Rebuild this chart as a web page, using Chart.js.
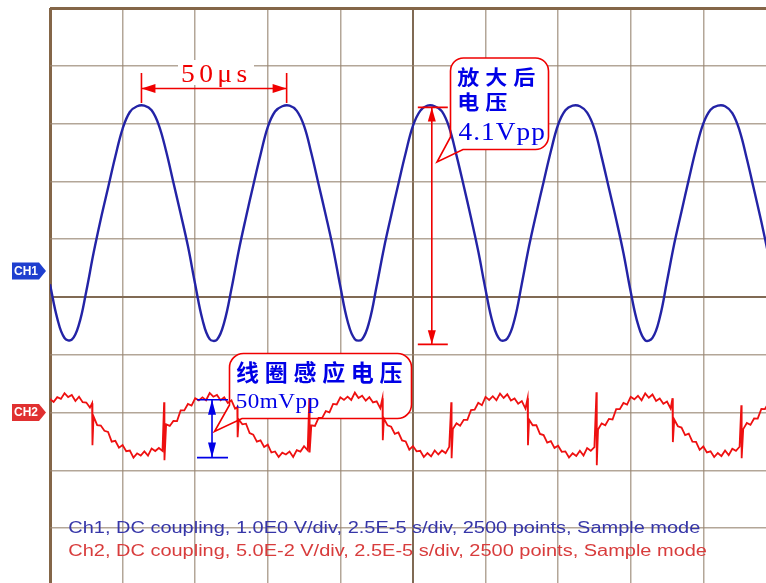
<!DOCTYPE html>
<html>
<head>
<meta charset="utf-8">
<script src="https://cdn.jsdelivr.net/npm/chart.js@4.4.1/dist/chart.umd.min.js"></script>
<style>
  html, body { margin: 0; padding: 0; background: #fff; overflow: hidden; }
  #wrap { width: 766px; height: 583px; }
</style>
</head>
<body>
<div id="wrap"><canvas id="scope" width="766" height="583"></canvas></div>
<script>
// ---- scope settings ----
const timePerDiv = 25;            // µs per division (2.5E-5 s/div)
const ch1VoltsPerDiv = 1.0;       // CH1 V/div
const ch2MilliVoltsPerDiv = 50;   // CH2 mV/div (5.0E-2 V/div)
const ch1Position = 0.45;         // CH1 ground, divisions above centre
const ch2Position = -2;           // CH2 ground, divisions above centre
const viewDivsX = 9.864;          // visible part of the 10-division record
const viewTopDiv = 5;
const viewBottomDiv = -4.95;

// ---- CH1: amplified signal, one sample every 2.5 µs (V) ----
const ch1Step = 2.5;
const ch1Volts = [
  -0.23, -0.82, -1.16, -1.19, -0.92, -0.35, 0.31, 0.90, 1.44, 1.98,
  2.46, 2.75, 2.85, 2.86, 2.78, 2.52, 2.07, 1.53, 0.99, 0.43,
  -0.23, -0.84, -1.18, -1.19, -0.89, -0.31, 0.35, 0.93, 1.48, 2.01,
  2.49, 2.76, 2.85, 2.86, 2.77, 2.51, 2.04, 1.50, 0.96, 0.39,
  -0.27, -0.87, -1.18, -1.18, -0.87, -0.26, 0.39, 0.96, 1.51, 2.04,
  2.51, 2.77, 2.86, 2.85, 2.76, 2.48, 2.00, 1.47, 0.92, 0.34,
  -0.32, -0.90, -1.19, -1.17, -0.84, -0.22, 0.43, 1.00, 1.54, 2.07,
  2.53, 2.78, 2.86, 2.85, 2.74, 2.46, 1.97, 1.43, 0.89, 0.31,
  -0.36, -0.92, -1.20, -1.16, -0.81, -0.18, 0.47, 1.03, 1.58, 2.11,
  2.55, 2.79, 2.86, 2.85, 2.73, 2.43, 1.94, 1.40, 0.85, 0.26
];

// ---- CH2: coil pick-up, one sample every 1.25 µs (mV) ----
const ch2Step = 1.25;
const ch2MilliVolts = [
  11.7, 9.2, 13.3, 11.8, 16.7, 13.4, 15.1, 10.0, 13.7, 8.9,
  8.6, 4.3, -3.4, -10.9, -11.3, -15.8, -16.8, -25.2, -24.5, -30.5,
  -28.2, -33.5, -32.9, -39.0, -35.3, -37.3, -33.7, -37.3, -31.1, -33.3,
  -30.7, -33.2, -10.2, -11.6, -7.3, -7.4, 1.8, 1.8, 7.4, 6.0,
  12.3, 10.5, 13.1, 10.6, 16.9, 13.7, 15.2, 10.6, 13.2, 8.3,
  10.5, 3.4, -6.0, -10.2, -9.7, -17.7, -19.1, -25.2, -24.1, -29.8,
  -27.8, -34.6, -33.7, -38.5, -34.7, -36.3, -33.8, -38.5, -32.5, -33.8,
  -29.2, -32.7, -11.1, -11.6, -4.6, -4.7, 1.2, 0.2, 7.4, 7.0,
  13.1, 10.9, 13.7, 10.9, 17.2, 12.6, 14.5, 10.2, 13.3, 8.7,
  9.7, 3.8, -5.2, -11.1, -12.3, -18.5, -17.3, -24.2, -25.0, -32.1,
  -29.0, -33.6, -33.1, -38.5, -35.1, -38.0, -32.8, -36.3, -32.9, -35.1,
  -29.7, -14.2, -9.3, -11.5, -6.3, -6.3, 2.1, 2.4, 8.4, 6.3,
  13.5, 10.9, 14.1, 10.6, 16.4, 12.6, 15.8, 10.4, 12.2, 7.6,
  9.9, 3.4, -6.2, -11.0, -11.0, -18.5, -19.5, -26.1, -24.7, -30.6,
  -28.7, -34.0, -33.6, -38.9, -35.3, -37.6, -33.1, -37.2, -30.8, -33.1,
  -29.9, -14.8, -9.4, -11.0, -5.5, -6.0, 2.9, 2.9, 8.3, 6.8,
  13.6, 11.4, 14.5, 10.6, 16.6, 12.8, 15.6, 10.0, 12.1, 7.5,
  9.5, 3.5, -6.0, -11.9, -13.0, -19.5, -18.3, -25.1, -25.4, -32.3,
  -29.4, -34.5, -33.6, -38.5, -35.0, -37.7, -32.9, -36.9, -31.3, -33.1,
  -29.6, -14.4, -9.1, -10.7, -5.2, -5.3, 3.2, 3.0, 8.6
];

// switching spikes on CH2: time (µs) and the two extremes (mV)
const spikeTimes = [14.5, 39.3, 64.5, 89.3, 114.5, 138.2, 164.5, 188.2, 214.4, 238.1];
const spikeHigh  = [8.0, 8.9, 4.6, 12.4, 12.4, 8.9, 12.4, 17.6, 12.4, 6.3];
const spikeLow   = [-28.3, -41.3, -21.4, -34.5, -23.9, -39.5, -28.3, -45.6, -25.6, -39.5];

// ---- measurements marked on the screen ----
const periodStart = 31.5;   // µs, first marked crest
const periodValue = 50;     // µs
const ch1PeakLevel = 2.83;  // V
const ch1Vpp = 4.1;         // V
const ch1MarkTime = 131.5;  // µs
const ch2TopLevel = 11;     // mV
const ch2Vpp = 50;          // mV
const ch2MarkTime = 55.8;   // µs

const infoLines = [
  'Ch1, DC coupling, 1.0E0 V/div, 2.5E-5 s/div, 2500 points, Sample mode',
  'Ch2, DC coupling, 5.0E-2 V/div, 2.5E-5 s/div, 2500 points, Sample mode'
];

// ---- build point lists ----
const ch1Points = ch1Volts.map((v, i) => ({ x: i * ch1Step, y: v }));
const ch2Points = [];
let sp = 0;
ch2MilliVolts.forEach((v, i) => {
  const t = i * ch2Step;
  while (sp < spikeTimes.length && spikeTimes[sp] < t) {
    ch2Points.push({ x: spikeTimes[sp], y: spikeHigh[sp] });
    ch2Points.push({ x: spikeTimes[sp] + 0.12, y: spikeLow[sp] });
    sp++;
  }
  ch2Points.push({ x: t, y: v });
});

// ---- graticule styling ----
const LINE = 'rgba(150,132,112,0.72)';
const CENTRE = 'rgb(128,106,84)';
const EDGE = 'rgb(132,102,72)';
function divColor(div, edge) { return div === edge ? EDGE : (div === 0 ? CENTRE : LINE); }
function divWidth(div, edge) { return div === edge ? 3 : (div === 0 ? 2 : 1.5); }

// ---- drawing helpers ----
function say(ctx, str, x, y, font, color, sx, spacing) {
  ctx.save();
  ctx.font = font; ctx.fillStyle = color;
  ctx.textAlign = 'left'; ctx.textBaseline = 'alphabetic';
  if ('letterSpacing' in ctx) ctx.letterSpacing = (spacing || 0) + 'px';
  ctx.translate(x, y); ctx.scale(sx || 1, 1);
  ctx.fillText(str, 0, 0);
  ctx.restore();
}
function sayPitched(ctx, str, x, y, pitch, font, color, sx) {
  ctx.save();
  ctx.font = font; ctx.fillStyle = color;
  ctx.textAlign = 'center'; ctx.textBaseline = 'alphabetic';
  [...str].forEach((ch, i) => {
    ctx.save();
    ctx.translate(x + pitch * (i + 0.5), y); ctx.scale(sx || 1, 1);
    ctx.fillText(ch, 0, 0);
    ctx.restore();
  });
  ctx.restore();
}
function arrowHead(ctx, tx, ty, dx, dy, len, half) {
  const bx = tx - dx * len, by = ty - dy * len;
  ctx.beginPath();
  ctx.moveTo(tx, ty);
  ctx.lineTo(bx - dy * half, by + dx * half);
  ctx.lineTo(bx + dy * half, by - dx * half);
  ctx.closePath();
  ctx.fill();
}
function calloutPath(ctx, b) {
  const { x0, y0, x1, y1, r, tipX, tipY, tailY, tailX } = b;
  ctx.beginPath();
  ctx.moveTo(x0 + r, y0);
  ctx.lineTo(x1 - r, y0);
  ctx.arcTo(x1, y0, x1, y0 + r, r);
  ctx.lineTo(x1, y1 - r);
  ctx.arcTo(x1, y1, x1 - r, y1, r);
  ctx.lineTo(tailX, y1);
  ctx.lineTo(tipX, tipY);
  ctx.lineTo(x0, tailY);
  ctx.lineTo(x0, y0 + r);
  ctx.arcTo(x0, y0, x0 + r, y0, r);
  ctx.closePath();
}
function channelTag(ctx, y, label, color) {
  ctx.save();
  ctx.fillStyle = color;
  ctx.beginPath();
  ctx.moveTo(12, y - 8.5); ctx.lineTo(39, y - 8.5); ctx.lineTo(46, y);
  ctx.lineTo(39, y + 8.5); ctx.lineTo(12, y + 8.5); ctx.closePath();
  ctx.fill();
  ctx.fillStyle = '#fff';
  ctx.font = 'bold 12px "Liberation Sans", Arial, sans-serif';
  ctx.textAlign = 'center'; ctx.textBaseline = 'middle';
  ctx.fillText(label, 26, y + 0.5);
  ctx.restore();
}

const box1 = { x0: 450.5, y0: 58, x1: 548.5, y1: 149.5, r: 13, tipX: 437, tipY: 162, tailY: 137, tailX: 463 };
const box2 = { x0: 229.5, y0: 353.5, x1: 411.5, y1: 418.5, r: 14, tipX: 214.5, tipY: 431.5, tailY: 405, tailX: 242 };

const RED = '#f00000';
const BLUE = '#0000e6';
const CJK = '"Noto Sans CJK SC", sans-serif';
const SERIF = '"Liberation Serif", "DejaVu Serif", serif';

const screenNotes = {
  id: 'screenNotes',
  beforeDatasetsDraw(chart) {
    const ctx = chart.ctx;
    ctx.save();
    ctx.fillStyle = '#fff';
    calloutPath(ctx, box1); ctx.fill();
    calloutPath(ctx, box2); ctx.fill();
    ctx.fillRect(178, 60, 76, 25);
    ctx.restore();
  },
  afterDatasetsDraw(chart) {
    const ctx = chart.ctx;
    const sx = chart.scales.x, s1 = chart.scales.y1, s2 = chart.scales.y2;
    ctx.save();

    // period marker
    const xa = sx.getPixelForValue(periodStart);
    const xb = sx.getPixelForValue(periodStart + periodValue);
    const yh = 88.5;
    ctx.strokeStyle = RED; ctx.fillStyle = RED; ctx.lineWidth = 1.6;
    ctx.beginPath();
    ctx.moveTo(xa, 73); ctx.lineTo(xa, 103);
    ctx.moveTo(xb, 73); ctx.lineTo(xb, 103);
    ctx.moveTo(xa, yh); ctx.lineTo(xb, yh);
    ctx.stroke();
    arrowHead(ctx, xa, yh, -1, 0, 14, 4.5);
    arrowHead(ctx, xb, yh, 1, 0, 14, 4.5);
    say(ctx, periodValue + 'μs', 181, 82, '25px ' + SERIF, RED, 1.1, 4);

    // CH1 peak-to-peak marker
    const xv = sx.getPixelForValue(ch1MarkTime);
    const yt = s1.getPixelForValue(ch1PeakLevel);
    const yb = s1.getPixelForValue(ch1PeakLevel - ch1Vpp);
    ctx.beginPath();
    ctx.moveTo(xv - 14, yt); ctx.lineTo(xv + 16, yt);
    ctx.moveTo(xv - 14, yb); ctx.lineTo(xv + 16, yb);
    ctx.moveTo(xv, yt); ctx.lineTo(xv, yb);
    ctx.stroke();
    arrowHead(ctx, xv, yt, 0, -1, 14, 4);
    arrowHead(ctx, xv, yb, 0, 1, 14, 4);

    // CH2 peak-to-peak marker
    const xw = sx.getPixelForValue(ch2MarkTime);
    const zt = s2.getPixelForValue(ch2TopLevel);
    const zb = s2.getPixelForValue(ch2TopLevel - ch2Vpp);
    ctx.strokeStyle = BLUE; ctx.fillStyle = BLUE;
    ctx.beginPath();
    ctx.moveTo(xw - 15, zt); ctx.lineTo(xw + 16, zt);
    ctx.moveTo(xw - 15, zb); ctx.lineTo(xw + 16, zb);
    ctx.moveTo(xw, zt); ctx.lineTo(xw, zb);
    ctx.stroke();
    arrowHead(ctx, xw, zt, 0, -1, 15, 4);
    arrowHead(ctx, xw, zb, 0, 1, 15, 4);

    // callout outlines
    ctx.strokeStyle = RED; ctx.lineWidth = 1.6;
    calloutPath(ctx, box1); ctx.stroke();
    calloutPath(ctx, box2); ctx.stroke();

    // callout texts
    sayPitched(ctx, '放大后', 454.3, 85, 28, 'bold 20px ' + CJK, BLUE, 1.1);
    sayPitched(ctx, '电压', 454.3, 110, 28, 'bold 20px ' + CJK, BLUE, 1.1);
    say(ctx, ch1Vpp + 'Vpp', 458.5, 140, '26px ' + SERIF, BLUE, 1.05, 1);
    sayPitched(ctx, '线圈感应电压', 233.2, 381.2, 28.7, 'bold 23px ' + CJK, BLUE, 1.0);
    say(ctx, ch2Vpp + 'mVpp', 235.7, 408.3, '22px ' + SERIF, BLUE, 1.05, 0.5);

    // channel ground tags
    channelTag(ctx, s1.getPixelForValue(0), 'CH1', '#1f3fcf');
    channelTag(ctx, s2.getPixelForValue(0), 'CH2', '#e03030');

    // settings readout
    const infoFont = '16px "Liberation Sans", Arial, sans-serif';
    ctx.font = infoFont;
    const stretch = 632 / ctx.measureText(infoLines[0]).width;
    say(ctx, infoLines[0], 68.3, 533, infoFont, '#3636a8', stretch, 0);
    say(ctx, infoLines[1], 68.3, 556, infoFont, '#d83c3c', stretch, 0);

    ctx.restore();
  }
};

new Chart(document.getElementById('scope'), {
  type: 'line',
  data: {
    datasets: [
      {
        label: 'CH1',
        data: ch1Points,
        xAxisID: 'x', yAxisID: 'y1',
        borderColor: '#2323a6', borderWidth: 2.4,
        pointRadius: 0, tension: 0.4, fill: false
      },
      {
        label: 'CH2',
        data: ch2Points,
        xAxisID: 'x', yAxisID: 'y2',
        borderColor: '#ee1010', borderWidth: 1.8,
        pointRadius: 0, tension: 0, fill: false
      }
    ]
  },
  options: {
    responsive: false,
    animation: false,
    events: [],
    layout: { padding: { left: 50, top: 8, right: 0, bottom: 0 } },
    plugins: { legend: { display: false }, tooltip: { enabled: false } },
    scales: {
      x: {
        type: 'linear', position: 'bottom',
        min: 0, max: viewDivsX * timePerDiv,
        ticks: { display: false },
        border: { display: false },
        grid: {
          drawTicks: false,
          color: c => divColor(c.tick.value / timePerDiv - 5, -5),
          lineWidth: c => divWidth(c.tick.value / timePerDiv - 5, -5)
        },
        afterBuildTicks: axis => {
          axis.ticks = [];
          for (let d = 0; d * timePerDiv <= axis.max; d++) axis.ticks.push({ value: d * timePerDiv });
        }
      },
      yDiv: {
        type: 'linear', position: 'left',
        min: viewBottomDiv, max: viewTopDiv,
        ticks: { display: false },
        border: { display: false },
        grid: {
          drawTicks: false,
          color: c => divColor(c.tick.value, viewTopDiv),
          lineWidth: c => divWidth(c.tick.value, viewTopDiv)
        },
        afterBuildTicks: axis => {
          axis.ticks = [];
          for (let d = Math.ceil(axis.min); d <= axis.max; d++) axis.ticks.push({ value: d });
        }
      },
      y1: {
        type: 'linear', display: false,
        min: (viewBottomDiv - ch1Position) * ch1VoltsPerDiv,
        max: (viewTopDiv - ch1Position) * ch1VoltsPerDiv
      },
      y2: {
        type: 'linear', display: false,
        min: (viewBottomDiv - ch2Position) * ch2MilliVoltsPerDiv,
        max: (viewTopDiv - ch2Position) * ch2MilliVoltsPerDiv
      }
    }
  },
  plugins: [screenNotes]
});
</script>
</body>
</html>
